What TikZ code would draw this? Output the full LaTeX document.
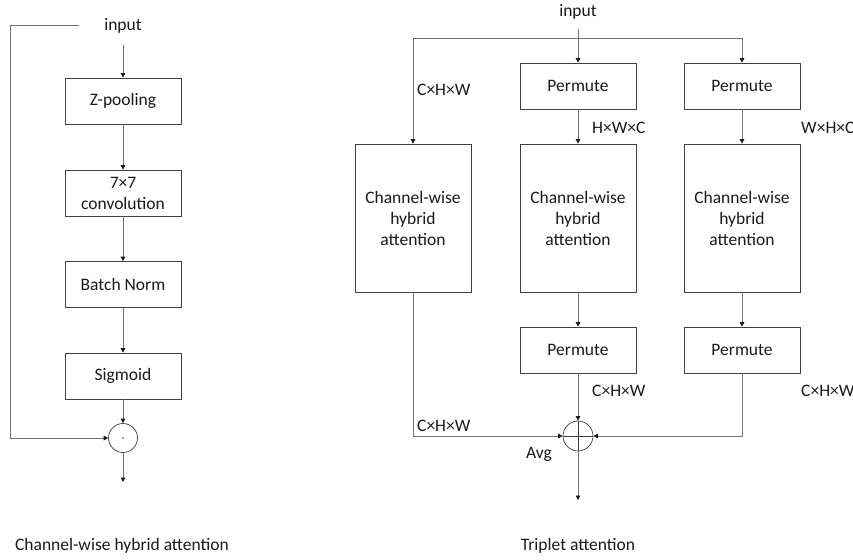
\documentclass[tikz,border=0pt]{standalone}
\usepackage{fontspec}
\setmainfont{Carlito}
\usetikzlibrary{arrows.meta}
\begin{document}
\begin{tikzpicture}[x=1pt,y=-1pt,
  font=\fontsize{17.5}{21}\selectfont,
  txt/.style={text=black!90, inner sep=0pt},
  box/.style={draw=black!75, line width=0.7pt, minimum width=116pt, minimum height=46pt, inner sep=2pt, align=center, text=black!90},
  bigbox/.style={box, minimum height=148pt},
  conn/.style={draw=black!55, line width=0.7pt},
  arr/.style={conn, -{Triangle[length=4.5pt,width=4.5pt,color=black!90]}},
  opc/.style={circle, draw=black!75, line width=0.7pt, minimum size=29pt, inner sep=0pt},
  lab/.style={txt, anchor=west}
]
\useasboundingbox (0,0) rectangle (853,559);

% ---------- left: channel-wise hybrid attention ----------
\node[txt, inner xsep=25pt, minimum height=38pt] (in1) at (123,25.5) {input};
\node[box] (zp) at (123,101) {Z-pooling};
\node[box] (cv) at (123,193) {7×7\\convolution};
\node[box] (bn) at (123,284.5) {Batch Norm};
\node[box] (sg) at (123,376) {Sigmoid};
\node[opc] (dot) at (123,438) {};
\fill[black!80] (dot.center) circle (0.9pt);
\coordinate (out1) at (123,482);
\coordinate (fb) at (10,25.5);

\draw[arr] (in1.south) -- (zp.north);
\draw[arr] (zp) -- (cv);
\draw[arr] (cv) -- (bn);
\draw[arr] (bn) -- (sg);
\draw[arr] (sg) -- (dot);
\draw[arr] (dot) -- (out1);
\draw[arr] (in1.west) -- (fb) |- (dot.west);

\node[txt] (cap1) at (122,546) {Channel-wise hybrid attention};

% ---------- right: triplet attention ----------
\node[txt, minimum height=34pt] (in2) at (578,11.5) {input};
\coordinate (jn) at (578,38.3);
\node[box] (p1) at (578,86) {Permute};
\node[box] (p2) at (742,86) {Permute};
\node[bigbox] (ch1) at (413,218) {Channel-wise\\hybrid\\attention};
\node[bigbox] (ch2) at (578,218) {Channel-wise\\hybrid\\attention};
\node[bigbox] (ch3) at (742,218) {Channel-wise\\hybrid\\attention};
\node[box] (p3) at (578,350) {Permute};
\node[box] (p4) at (742,350) {Permute};
\node[opc, minimum size=30pt,
  path picture={\draw[black!75, line width=0.7pt]
    (path picture bounding box.north) -- (path picture bounding box.south)
    (path picture bounding box.west) -- (path picture bounding box.east);}] (sum) at (578,436) {};
\coordinate (out2) at (578,500);

\draw[arr] (in2.south) -- (p1.north);
\draw[conn] (jn) -- (413,38.3);
\draw[conn] (jn) -- (742,38.3);
\draw[arr] (jn) -| (ch1.north);
\draw[arr] (jn) -| (p2.north);
\draw[arr] (p1) -- (ch2);
\draw[arr] (p2) -- (ch3);
\draw[arr] (ch2) -- (p3);
\draw[arr] (ch3) -- (p4);
\draw[arr] (p3) -- (sum);
\draw[arr] (ch1.south) |- (sum.west);
\draw[arr] (p4.south) |- (sum.east);
\draw[arr] (sum) -- (out2);

\node[lab] (l1) at (417,90) {C×H×W};
\node[lab] (l2) at (592,128) {H×W×C};
\node[lab] (l3) at (801,128) {W×H×C};
\node[lab] (l4) at (592,391) {C×H×W};
\node[lab] (l5) at (801,391) {C×H×W};
\node[lab] (l6) at (417,426) {C×H×W};
\node[txt] (avg) at (539,454) {Avg};

\node[txt] (cap2) at (578,546) {Triplet attention};
\end{tikzpicture}
\end{document}
